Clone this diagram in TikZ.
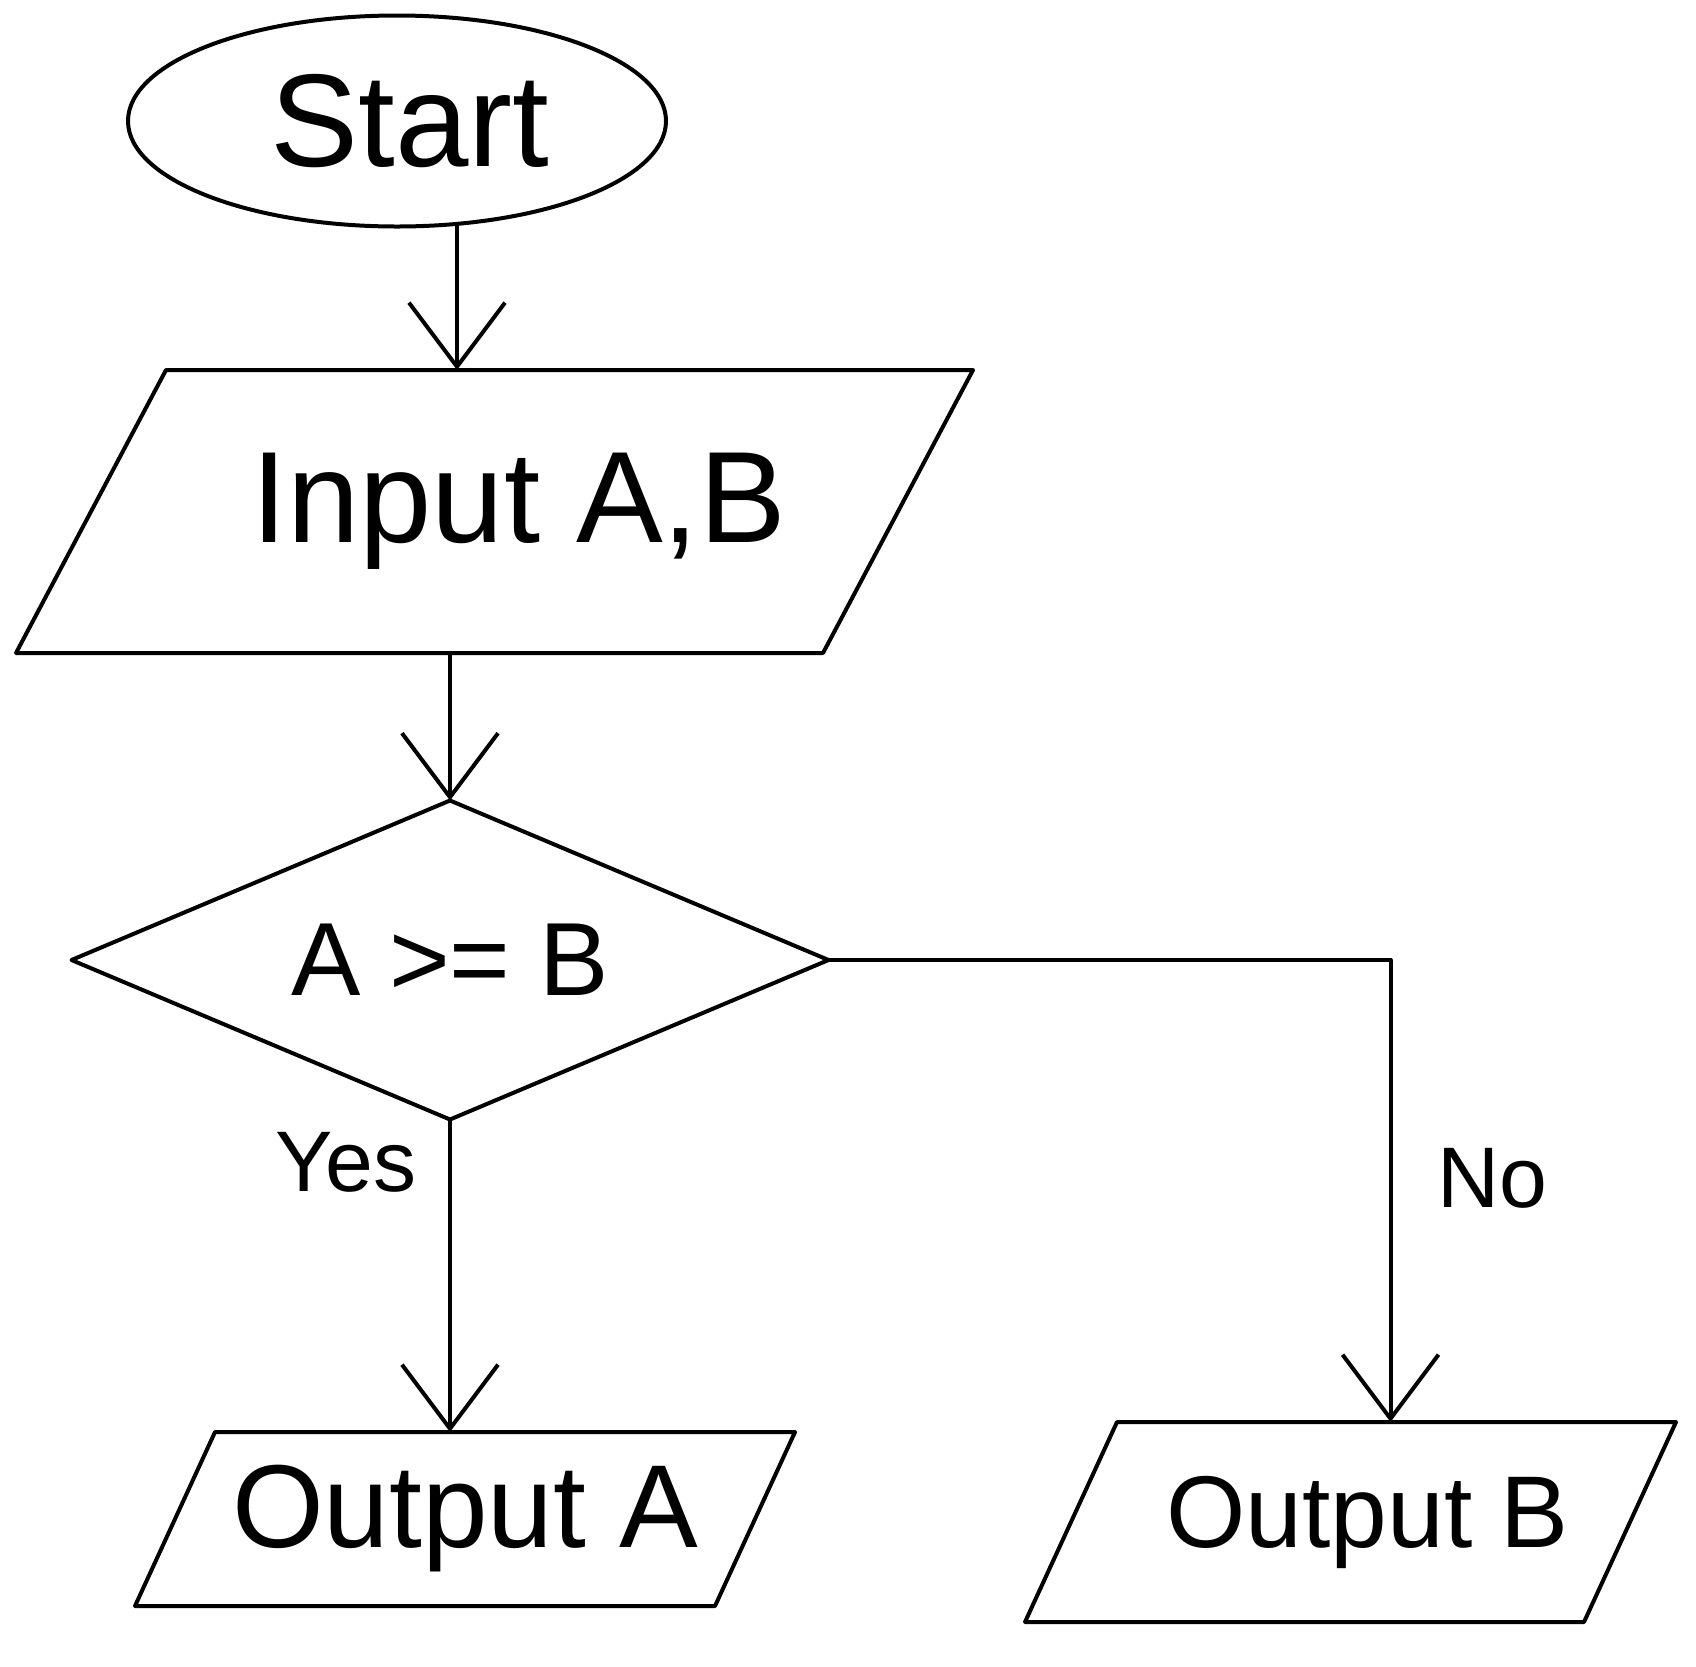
\documentclass[tikz,border=0pt]{standalone}
\usepackage{fontspec}
\setmainfont{Liberation Sans}
\usetikzlibrary{shapes.geometric,arrows.meta}
\tikzset{
  every path/.style={line width=2pt, line cap=round, line join=round},
  base/.style={line width=2pt, inner sep=0pt, outer sep=0pt},
  term/.style={base, draw, ellipse, font=\fontsize{66}{74}\selectfont},
  iobox/.style={base, rectangle},
  decide/.style={base, draw, diamond, aspect=2.37, font=\fontsize{52}{60}\selectfont},
  lab/.style={font=\fontsize{43}{50}\selectfont},
  arr/.style={-{Straight Barb[length=32pt,width=48pt]}}
}
\begin{document}
\begin{tikzpicture}[x=0.5pt,y=-0.5pt]
\useasboundingbox (0,0) rectangle (1696,1666);
\node[term, minimum width=269pt, minimum height=105.5pt] (start) at (397,121) {\hspace*{13pt}Start};
\node[iobox, minimum width=478.5pt, minimum height=141.5pt, font=\fontsize{65}{72}\selectfont] (input) at (494.5,511.5) {\raisebox{-8pt}{\hspace*{24pt}Input A,B}};
\node[decide, minimum width=378.5pt, minimum height=159.5pt] (dec) at (450,960) {A >= B};
\node[iobox, minimum width=330pt, minimum height=87pt, font=\fontsize{59}{66}\selectfont] (outA) at (465,1519) {Output A};
\node[iobox, minimum width=325.5pt, minimum height=100pt, font=\fontsize{51}{58}\selectfont] (outB) at (1350.5,1522) {\hspace*{17pt}Output B};
\node[lab] (yes) at (346,1162) {Yes};
\node[lab] (no) at (1492,1178) {No};
% parallelogram outlines from the box anchors
\draw ([xshift=75pt]input.north west) -- (input.north east) -- ([xshift=-75pt]input.south east) -- (input.south west) -- cycle;
\draw ([xshift=40pt]outA.north west) -- (outA.north east) -- ([xshift=-40pt]outA.south east) -- (outA.south west) -- cycle;
\draw ([xshift=46pt]outB.north west) -- (outB.north east) -- ([xshift=-46pt]outB.south east) -- (outB.south west) -- cycle;
% connectors
\draw[arr] ([xshift=30pt]start.south) -- ([xshift=30pt]start.south |- input.north);
\draw[arr] (input.south -| dec.north) -- (dec.north);
\draw[arr] (dec.south) -- (dec.south |- outA.north);
\draw[arr] (dec.east) -| ([xshift=20pt]outB.north);
\end{tikzpicture}
\end{document}
